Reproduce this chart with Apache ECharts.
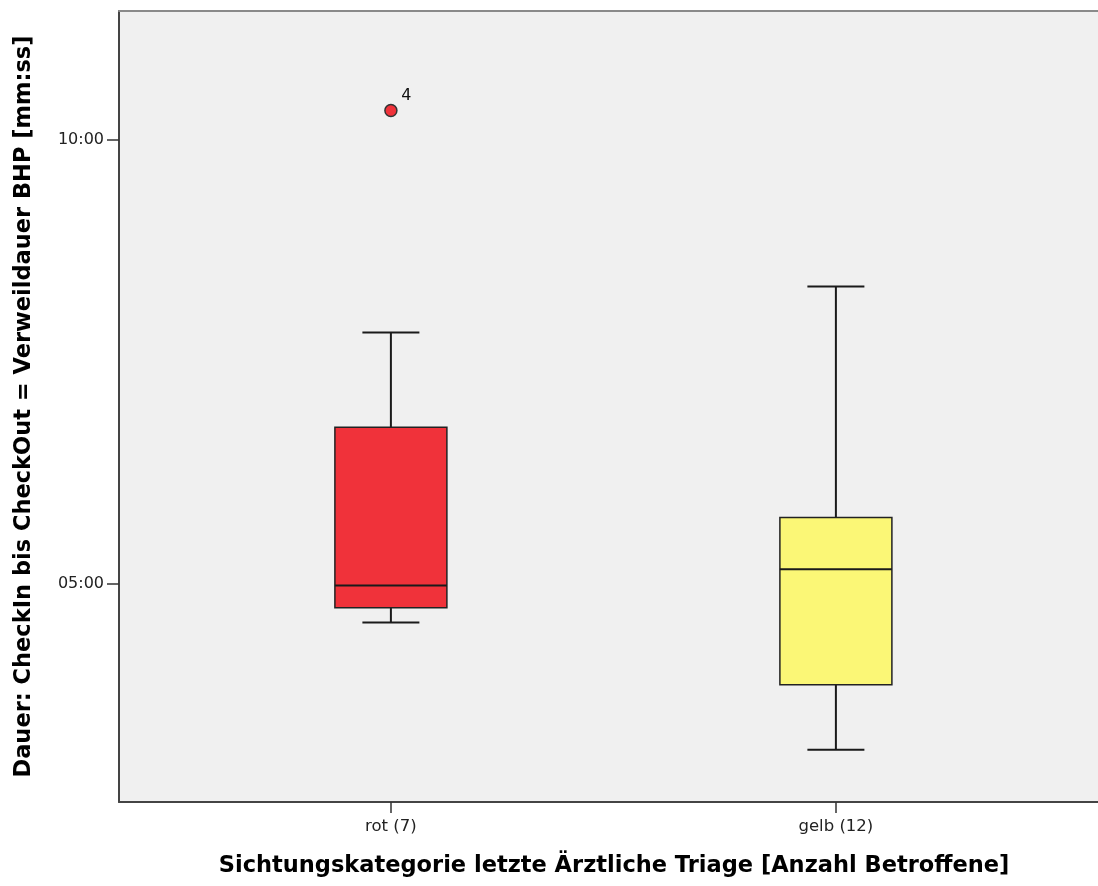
<!DOCTYPE html>
<html>
<head>
<meta charset="utf-8">
<script src="https://cdn.jsdelivr.net/npm/echarts@6/dist/echarts.min.js"></script>
<style>html,body{margin:0;padding:0;background:#fff}#c{width:1098px;height:886px}</style>
</head>
<body>
<div id="c"></div>
<script>
// ---- data (durations in seconds) ----
const categories = ['rot (7)', 'gelb (12)'];
const whiskerLow  = [274, 188];
const q1          = [284, 232];
const median      = [299, 310];
const q3          = [406, 345];
const whiskerHigh = [470, 501];
const outlierCategory = [0];
const outlierValue    = [620];
const outlierLabel    = ['4'];
const yTickValues = [300, 600];
const yMin = 152.7, yMax = 687.2;
const xMin = -0.611, xMax = 1.589;

const boxColors = ['#F0323A', '#FBF776'];

function mmss(v){
  const m = Math.floor(v/60), s = Math.round(v - m*60);
  return String(m).padStart(2,'0') + ':' + String(s).padStart(2,'0');
}

const boxData = categories.map((c,i)=>[i, whiskerLow[i], q1[i], median[i], q3[i], whiskerHigh[i]]);
const outlierData = outlierCategory.map((c,i)=>({value:[c, outlierValue[i]], name: outlierLabel[i]}));

const FONT = 'DejaVu Sans';
const chart = echarts.init(document.getElementById('c'), null, {renderer:'canvas'});
chart.setOption({
  animation: false,
  backgroundColor: '#ffffff',
  grid: {left: 119, right: 0, top: 11, bottom: 84, show: true,
         backgroundColor: '#F0F0F0', borderWidth: 0},
  xAxis: [{
    type: 'value', min: xMin, max: xMax,
    splitLine: {show: false},
    axisLine: {show: true, onZero: false, lineStyle: {color: '#444', width: 2}},
    axisTick: {show: true, length: 11, customValues: [0, 1], lineStyle: {color: '#333', width: 1.5}},
    axisLabel: {customValues: [0, 1], margin: 16, color: '#222', fontFamily: FONT, fontSize: 16.5,
                formatter: v => categories[Math.round(v)]},
    name: 'Sichtungskategorie letzte Ärztliche Triage [Anzahl Betroffene]',
    nameLocation: 'middle', nameGap: 53,
    nameTextStyle: {color: '#000', fontFamily: FONT, fontWeight: 'bold', fontSize: 22.5,
                    padding: [0, 0, 0, 11]}
  }, {
    type: 'value', position: 'top', min: xMin, max: xMax,
    splitLine: {show: false}, axisTick: {show: false}, axisLabel: {show: false},
    axisLine: {show: true, onZero: false, lineStyle: {color: '#8a8a8a', width: 2}}
  }],
  yAxis: {
    type: 'value', min: yMin, max: yMax,
    splitLine: {show: false},
    axisLine: {show: true, onZero: false, lineStyle: {color: '#444', width: 2}},
    axisTick: {show: true, length: 12, customValues: yTickValues, lineStyle: {color: '#333', width: 1.5}},
    axisLabel: {customValues: yTickValues, margin: 15, color: '#222', fontFamily: FONT, fontSize: 16,
                formatter: v => mmss(v)},
    name: 'Dauer: CheckIn bis CheckOut = Verweildauer BHP [mm:ss]',
    nameLocation: 'middle', nameGap: 83, nameRotate: 90,
    nameTextStyle: {color: '#000', fontFamily: FONT, fontWeight: 'bold', fontSize: 22.5}
  },
  series: [
    {
      type: 'custom',
      data: boxData,
      encode: {x: 0, y: [1,2,3,4,5]},
      renderItem: function(params, api){
        const i = api.value(0);
        const lo = api.coord([i, api.value(1)]);
        const b1 = api.coord([i, api.value(2)]);
        const md = api.coord([i, api.value(3)]);
        const b3 = api.coord([i, api.value(4)]);
        const hi = api.coord([i, api.value(5)]);
        const cx = lo[0];
        const bw = 112, cw = 57;
        const ls = {stroke: '#1a1a1a', lineWidth: 2};
        return {type: 'group', children: [
          {type:'line', shape:{x1:cx, y1:b1[1], x2:cx, y2:lo[1]}, style: ls},
          {type:'line', shape:{x1:cx, y1:b3[1], x2:cx, y2:hi[1]}, style: ls},
          {type:'line', shape:{x1:cx-cw/2, y1:lo[1], x2:cx+cw/2, y2:lo[1]}, style: ls},
          {type:'line', shape:{x1:cx-cw/2, y1:hi[1], x2:cx+cw/2, y2:hi[1]}, style: ls},
          {type:'rect', shape:{x:cx-bw/2, y:b3[1], width:bw, height:b1[1]-b3[1]},
           style:{fill: boxColors[i], stroke:'#222', lineWidth:1.5}},
          {type:'line', shape:{x1:cx-bw/2, y1:md[1], x2:cx+bw/2, y2:md[1]}, style: ls}
        ]};
      }
    },
    {
      type: 'scatter',
      data: outlierData,
      symbol: 'circle', symbolSize: 12,
      itemStyle: {color: '#F0323A', borderColor: '#333', borderWidth: 1.5, opacity: 1},
      label: {show: true, formatter: p => p.name, position: [17, -16],
              color: '#111', fontFamily: FONT, fontSize: 16}
    }
  ]
});
</script>
</body>
</html>
